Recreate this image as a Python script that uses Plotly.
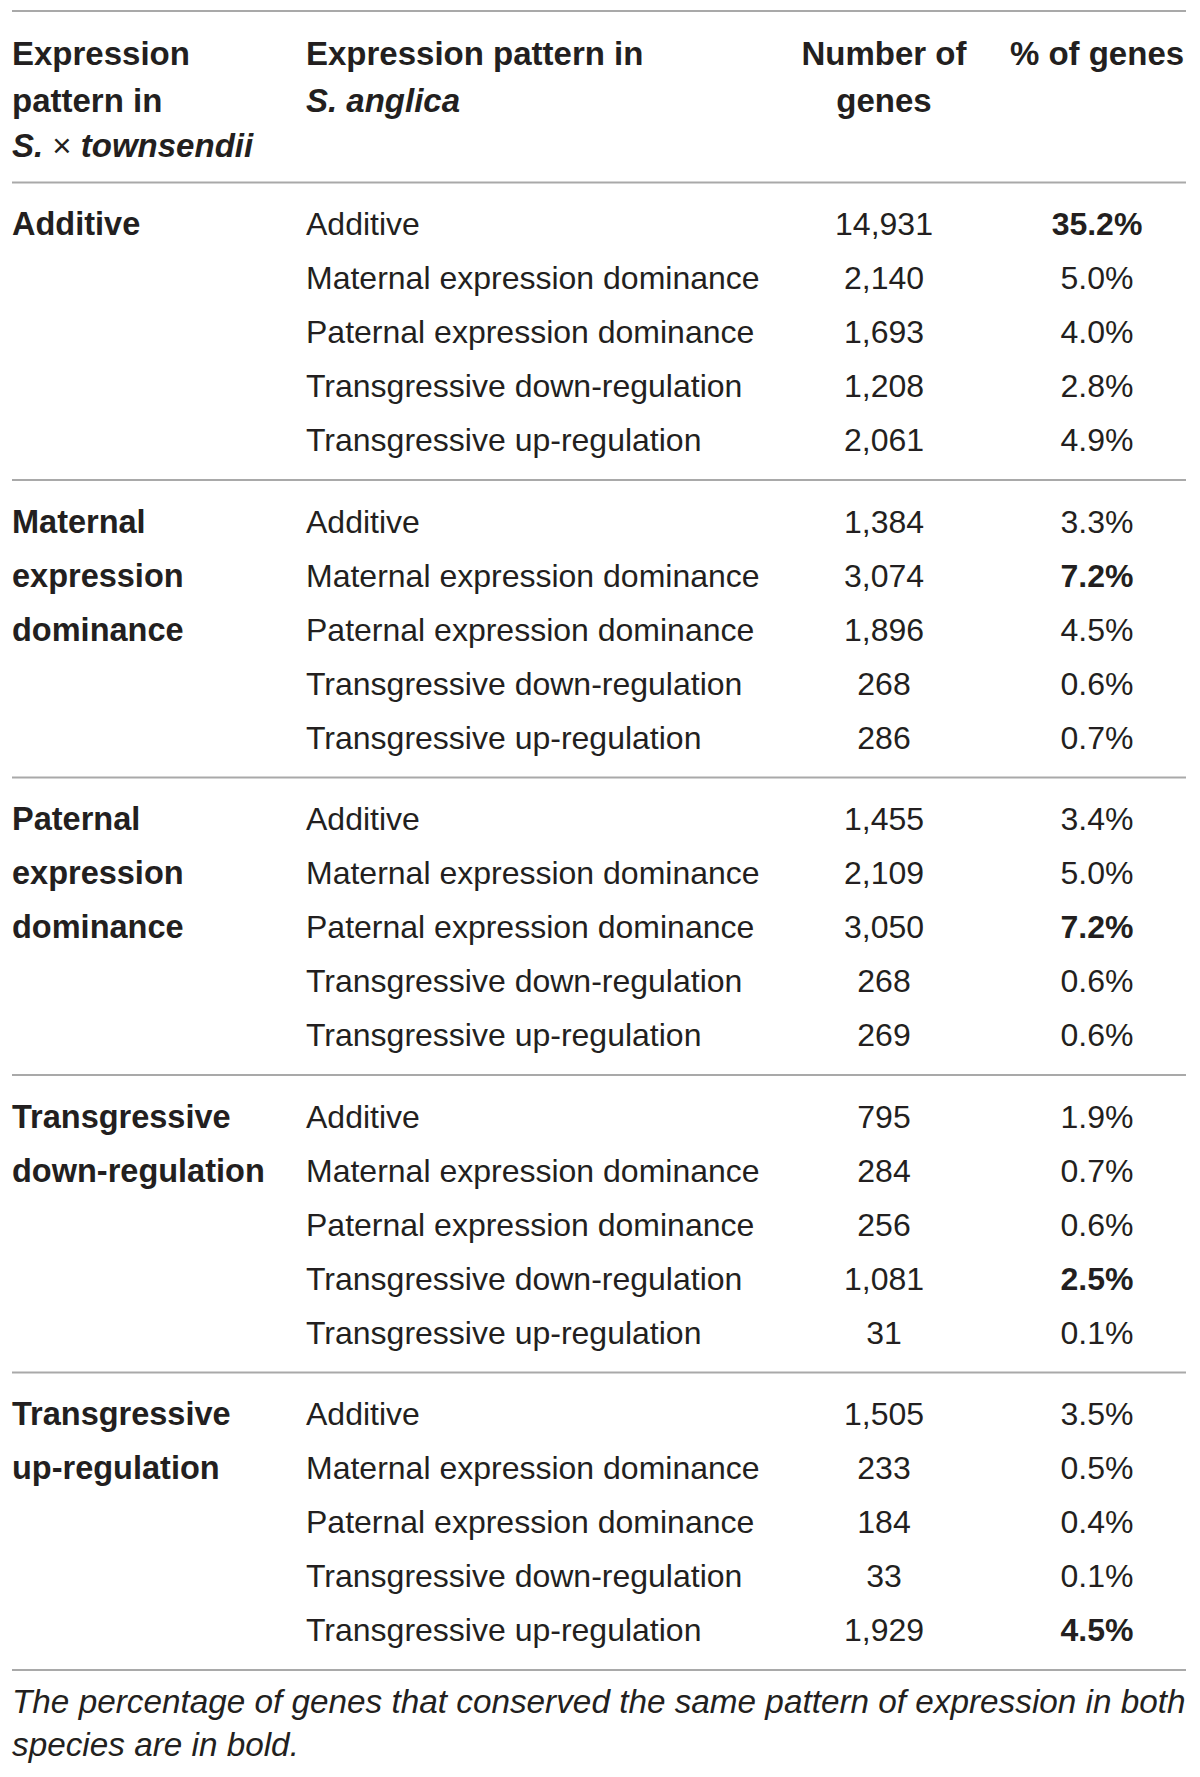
import plotly.graph_objects as go

# ---------------- data ----------------
groups = [
    "Additive",
    "Maternal expression dominance",
    "Paternal expression dominance",
    "Transgressive down-regulation",
    "Transgressive up-regulation",
]
group_label_lines = [
    ["Additive"],
    ["Maternal", "expression", "dominance"],
    ["Paternal", "expression", "dominance"],
    ["Transgressive", "down-regulation"],
    ["Transgressive", "up-regulation"],
]
anglica_patterns = [
    "Additive",
    "Maternal expression dominance",
    "Paternal expression dominance",
    "Transgressive down-regulation",
    "Transgressive up-regulation",
]
gene_counts = [
    [14931, 2140, 1693, 1208, 2061],
    [1384, 3074, 1896, 268, 286],
    [1455, 2109, 3050, 268, 269],
    [795, 284, 256, 1081, 31],
    [1505, 233, 184, 33, 1929],
]
gene_pcts = [
    [35.2, 5.0, 4.0, 2.8, 4.9],
    [3.3, 7.2, 4.5, 0.6, 0.7],
    [3.4, 5.0, 7.2, 0.6, 0.6],
    [1.9, 0.7, 0.6, 2.5, 0.1],
    [3.5, 0.5, 0.4, 0.1, 4.5],
]
header_col1 = ["Expression", "pattern in", "<i>S.</i></b> × <b><i>townsendii</i>"]
header_col2 = ["Expression pattern in", "<i>S. anglica</i>"]
header_col3 = ["Number of", "genes"]
header_col4 = ["% of genes"]
footnote_lines = [
    "The percentage of genes that conserved the same pattern of expression in both",
    "species are in bold.",
]

# ---------------- layout constants ----------------
OFF = 8  # page body margin
W, H = 1200 - OFF, 1777 - OFF
TXT = "#231f20"
LINE = "#a9a9a9"
FONT = "Liberation Sans"
FS = 32
X_C1, X_C2, X_C3, X_C4 = 12 - OFF, 306 - OFF, 884 - OFF, 1097 - OFF
X_L, X_R = 12 - OFF, 1186 - OFF
Y_TOP = 11 - OFF
Y_HEAD = [56.5 - OFF, 103.5 - OFF, 148.5 - OFF]
Y_HEAD_LINE = 182.5 - OFF
GROUP_H = 297.5
ROW_H = 54.1
FIRST_ROW = 44.5
Y_FOOT = [1705 - OFF, 1748 - OFF]


def row_y(g, k):
    return Y_HEAD_LINE + g * GROUP_H + FIRST_ROW + k * ROW_H


fig = go.Figure()

# header
hx, hy, ht = [], [], []
for i, t in enumerate(header_col1):
    hx.append(X_C1); hy.append(Y_HEAD[i]); ht.append("<b>" + t + "</b>")
for i, t in enumerate(header_col2):
    hx.append(X_C2); hy.append(Y_HEAD[i]); ht.append("<b>" + t + "</b>")
fig.add_trace(go.Scatter(x=hx, y=hy, text=ht, mode="text", textposition="middle right",
                         textfont=dict(family=FONT, size=FS + 1, color=TXT), hoverinfo="skip",
                         showlegend=False))
cx, cy, ct = [], [], []
for i, t in enumerate(header_col3):
    cx.append(X_C3); cy.append(Y_HEAD[i]); ct.append("<b>" + t + "</b>")
for i, t in enumerate(header_col4):
    cx.append(X_C4); cy.append(Y_HEAD[i]); ct.append("<b>" + t + "</b>")
fig.add_trace(go.Scatter(x=cx, y=cy, text=ct, mode="text", textposition="middle center",
                         textfont=dict(family=FONT, size=FS + 1, color=TXT), hoverinfo="skip",
                         showlegend=False))

# group labels
gx, gy, gt = [], [], []
for g, lines in enumerate(group_label_lines):
    for k, t in enumerate(lines):
        gx.append(X_C1); gy.append(row_y(g, k)); gt.append("<b>" + t + "</b>")
fig.add_trace(go.Scatter(x=gx, y=gy, text=gt, mode="text", textposition="middle right",
                         textfont=dict(family=FONT, size=FS + 0.5, color=TXT), hoverinfo="skip",
                         showlegend=False))

# pattern names, counts, percentages
px_, py_, pt_ = [], [], []
nx, ny, nt = [], [], []
qx, qy, qt = [], [], []
for g in range(len(groups)):
    for k, p in enumerate(anglica_patterns):
        y = row_y(g, k)
        px_.append(X_C2); py_.append(y); pt_.append(p)
        nx.append(X_C3); ny.append(y); nt.append(f"{gene_counts[g][k]:,}")
        s = f"{gene_pcts[g][k]:.1f}%"
        if groups[g] == p:
            s = "<b>" + s + "</b>"
        qx.append(X_C4); qy.append(y); qt.append(s)
fig.add_trace(go.Scatter(x=px_, y=py_, text=pt_, mode="text", textposition="middle right",
                         textfont=dict(family=FONT, size=FS, color=TXT), hoverinfo="skip",
                         showlegend=False))
fig.add_trace(go.Scatter(x=nx + qx, y=ny + qy, text=nt + qt, mode="text",
                         textposition="middle center",
                         textfont=dict(family=FONT, size=FS, color=TXT), hoverinfo="skip",
                         showlegend=False))

# footnote
fig.add_trace(go.Scatter(x=[X_C1] * len(footnote_lines), y=Y_FOOT[:len(footnote_lines)],
                         text=["<i>" + t + "</i>" for t in footnote_lines], mode="text",
                         textposition="middle right",
                         textfont=dict(family=FONT, size=33.3, color=TXT), hoverinfo="skip",
                         showlegend=False))

# rules
line_ys = [Y_TOP, Y_HEAD_LINE] + [Y_HEAD_LINE + (g + 1) * GROUP_H for g in range(len(groups))]
for y in line_ys:
    fig.add_shape(type="line", xref="x", yref="y", x0=X_L, x1=X_R, y0=y, y1=y,
                  line=dict(color=LINE, width=2))

fig.update_xaxes(range=[0, W], visible=False, fixedrange=True)
fig.update_yaxes(range=[H, 0], visible=False, fixedrange=True)
fig.update_layout(width=W, height=H, margin=dict(l=0, r=0, t=0, b=0),
                  plot_bgcolor="white", paper_bgcolor="white")

fig.write_html("out.html")
